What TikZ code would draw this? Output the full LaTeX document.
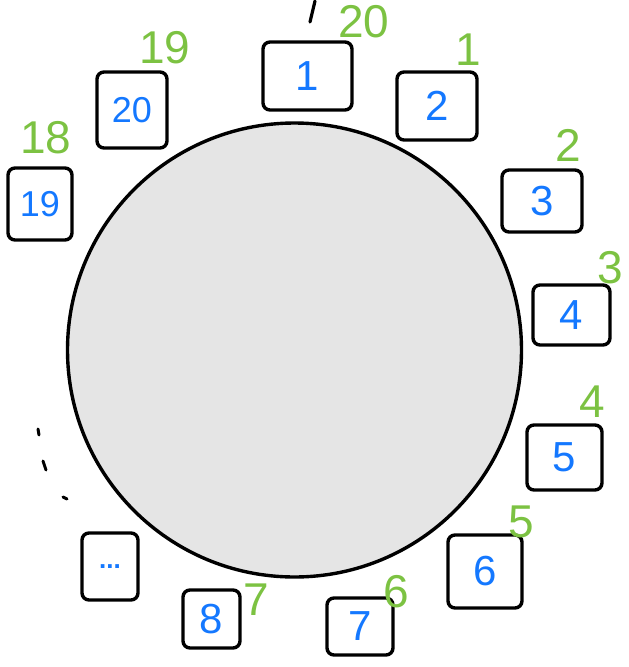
\documentclass[tikz,border=0pt]{standalone}
\usepackage{fontspec}
\setmainfont{Liberation Sans}
\definecolor{numblue}{HTML}{1478FF}
\definecolor{numgreen}{HTML}{7CC242}
\definecolor{ringgray}{HTML}{E5E5E5}
\begin{document}
\begin{tikzpicture}[x=1pt,y=-1pt,
  slot/.style={draw=black, line width=3.4pt, rounded corners=7pt, fill=white,
    text=numblue, font=\fontsize{42}{42}\selectfont, inner sep=0pt},
  succ/.style={text=numgreen, font=\fontsize{46}{46}\selectfont, inner sep=0pt},
  ring/.style={circle, draw=black, line width=3.4pt, fill=ringgray, inner sep=0pt}]
\useasboundingbox (0,0) rectangle (629,667);
\node[ring, minimum size=454pt] (c) at (294.5,350) {};
% slots
\node[slot, minimum width=89pt, minimum height=68pt] (s1) at (307.5,76) {1};
\node[slot, minimum width=80pt, minimum height=68pt] (s2) at (437,106) {2};
\node[slot, minimum width=80pt, minimum height=62pt] (s3) at (542,201) {3};
\node[slot, minimum width=77pt, minimum height=60pt] (s4) at (571.5,315) {4};
\node[slot, minimum width=75pt, minimum height=65pt] (s5) at (564.5,457.5) {5};
\node[slot, minimum width=74pt, minimum height=73pt] (s6) at (485,571.5) {6};
\node[slot, minimum width=66pt, minimum height=57pt] (s7) at (360,626.5) {7};
\node[slot, minimum width=57pt, minimum height=58pt] (s8) at (211.5,619) {8};
\node[slot, minimum width=56pt, minimum height=67pt, font=\fontsize{26}{26}\selectfont\bfseries] (sd) at (110,566.5) {...};
\node[slot, minimum width=64pt, minimum height=72pt, font=\fontsize{36}{36}\selectfont] (s19) at (40,204) {19};
\node[slot, minimum width=70pt, minimum height=76pt, font=\fontsize{36}{36}\selectfont] (s20) at (132,110) {20};
% successor labels
\node[succ] (g20) at (364,22) {20};
\node[succ] (g1) at (468,50) {1};
\node[succ] (g2) at (568,145) {2};
\node[succ] (g3) at (610,268) {3};
\node[succ] (g4) at (592,402) {4};
\node[succ] (g5) at (521,522) {5};
\node[succ] (g6) at (396,592) {6};
\node[succ] (g7) at (256,600) {7};
\node[succ] (g18) at (46,138) {18};
\node[succ] (g19) at (165,48) {19};
% marks
\coordinate (t1) at (315,1);
\coordinate (t2) at (310,22);
\draw[line width=3.2pt, line cap=round] (t1) -- (t2);
\draw[line width=3pt, line cap=round] (38,429) -- (39,435);
\draw[line width=3pt, line cap=round] (43,461) -- (46,470);
\draw[line width=3pt, line cap=round] (63,497) -- (67,499);
\end{tikzpicture}
\end{document}
